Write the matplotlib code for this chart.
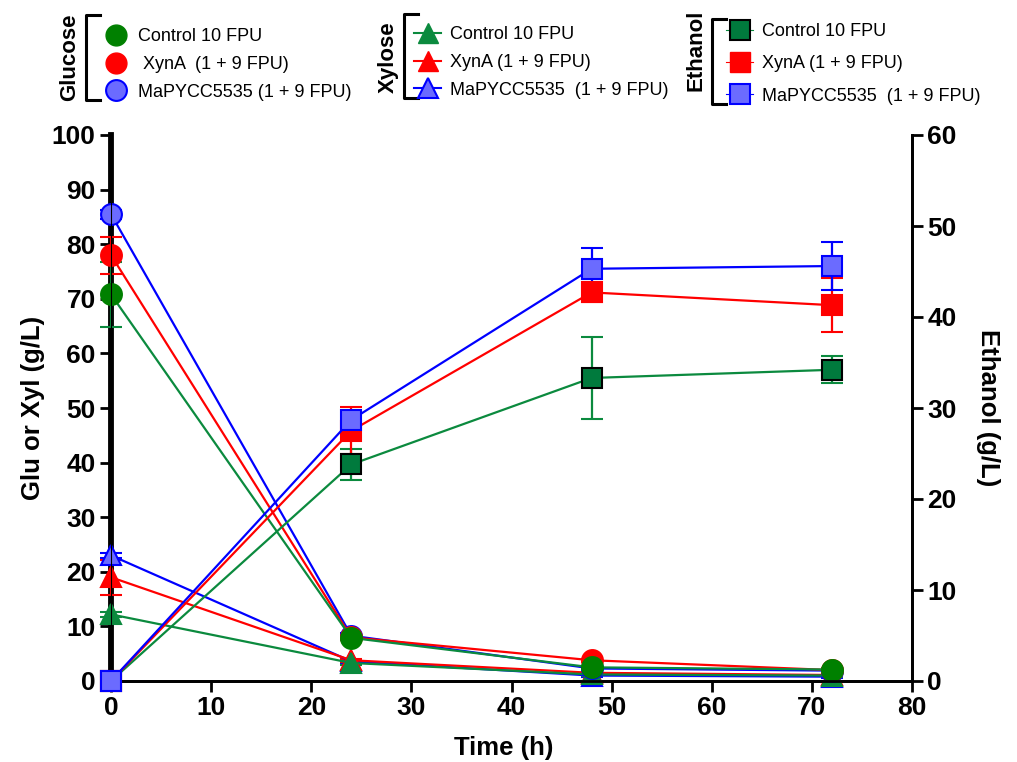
import numpy as np
import matplotlib.pyplot as plt
from matplotlib.lines import Line2D

plt.rcParams["font.family"] = ["Liberation Sans", "DejaVu Sans"]

########################################################################
# Données
time = [0, 24, 48, 72]

glc_control = [70.8, 7.9, 2.5, 2.1]
glc_control_err = [6.0, 0.4, 0.3, 0.2]
glc_xyna = [78.0, 8.0, 3.8, 2.0]
glc_xyna_err = [3.4, 0.4, 0.3, 0.2]
glc_mapycc = [85.5, 8.3, 2.3, 1.9]
glc_mapycc_err = [0.8, 0.4, 0.3, 0.2]

xyl_control = [12.2, 3.3, 1.2, 1.0]
xyl_control_err = [0.5, 0.3, 0.2, 0.2]
xyl_xyna = [19.0, 3.8, 1.5, 1.1]
xyl_xyna_err = [3.2, 0.3, 0.2, 0.2]
xyl_mapycc = [23.0, 3.6, 1.0, 0.8]
xyl_mapycc_err = [0.5, 0.3, 0.2, 0.2]

eth_control = [0, 23.8, 33.3, 34.2]
eth_control_err = [0, 1.7, 4.5, 1.5]
eth_xyna = [0, 27.5, 42.7, 41.3]
eth_xyna_err = [0, 2.6, 1.0, 3.0]
eth_mapycc = [0, 28.7, 45.3, 45.6]
eth_mapycc_err = [0, 1.0, 2.3, 2.6]

labels_glc = ["Control 10 FPU", " XynA  (1 + 9 FPU)", "MaPYCC5535 (1 + 9 FPU)"]
labels_xyl = ["Control 10 FPU", "XynA (1 + 9 FPU)", "MaPYCC5535  (1 + 9 FPU)"]
labels_eth = ["Control 10 FPU", "XynA (1 + 9 FPU)", "MaPYCC5535  (1 + 9 FPU)"]

########################################################################
green = "#0b8a3e"
green_dot = "#008000"
green_sq = "#007a3d"
red = "#ff0000"
blue = "#0000ff"
blue_fill = "#6b6bff"

W, H = 1017, 762
fig = plt.figure(figsize=(W / 100, H / 100), dpi=100)
ax = fig.add_axes([111 / W, 81 / H, 801 / W, 546 / H])
ax2 = ax.twinx()


def px(x, y):
    return x / W, 1 - y / H


def serie(a, y, err, marker, color, face, edge, ms, z):
    a.errorbar(time, y, yerr=err, color=color, lw=1.6, marker=marker, ms=ms,
               mfc=face, mec=edge, mew=1.5, capsize=8, capthick=1.6,
               elinewidth=1.6, clip_on=False, zorder=z)


# Glucose / Xylose (axe de gauche)
serie(ax, xyl_mapycc, xyl_mapycc_err, "^", blue, blue_fill, blue, 14, 3)
serie(ax, xyl_xyna, xyl_xyna_err, "^", red, red, red, 14, 3)
serie(ax, xyl_control, xyl_control_err, "^", green, green, green, 14, 3)
serie(ax, glc_mapycc, glc_mapycc_err, "o", blue, blue_fill, blue, 15, 4)
serie(ax, glc_xyna, glc_xyna_err, "o", red, red, red, 15, 4)
serie(ax, glc_control, glc_control_err, "o", green, green_dot, green_dot, 15, 4)

# Ethanol (axe de droite)
serie(ax2, eth_control, eth_control_err, "s", green, green_sq, "black", 14, 3)
serie(ax2, eth_xyna, eth_xyna_err, "s", red, red, red, 14, 3)
serie(ax2, eth_mapycc, eth_mapycc_err, "s", blue, blue_fill, blue, 14, 3)

ax.set_xlim(0, 80)
ax.set_ylim(0, 100)
ax2.set_ylim(0, 60)
ax.set_xticks(np.arange(0, 81, 10))
ax.set_yticks(np.arange(0, 101, 10))
ax2.set_yticks(np.arange(0, 61, 10))

for a in (ax, ax2):
    a.tick_params(length=8, width=2, labelsize=19, pad=3)
    for lab in a.get_xticklabels() + a.get_yticklabels():
        lab.set_fontweight("bold")
    a.spines["top"].set_visible(False)
    a.spines["bottom"].set_linewidth(2)
    a.spines["right"].set_linewidth(2)
ax.spines["left"].set_linewidth(4.2)
ax.spines["left"].set_zorder(2.5)

ax.set_xlabel("Time (h)", fontsize=18.5, fontweight="bold")
ax.set_ylabel("Glu or Xyl (g/L)", fontsize=18.5, fontweight="bold")
ax2.set_ylabel("Ethanol (g/L)", fontsize=18.5, fontweight="bold", rotation=270,
               va="center")
ax.xaxis.set_label_coords(0.49, -0.1)
ax.yaxis.set_label_coords(-0.098, 0.5)
ax.yaxis.label.set_va("center")
ax2.yaxis.set_label_coords(1.095, 0.5)

########################################################################
# Légendes groupées en haut


def legende(handles, labels, mx, ytop, title, tx, ty, bx, by0, by1, sp):
    fig.legend(handles, labels, loc="upper left",
               bbox_to_anchor=px(mx - 11, ytop), frameon=False,
               fontsize=13, handlelength=1.5, handletextpad=0.5,
               labelspacing=sp, borderpad=0, borderaxespad=0)
    fig.text(*px(tx, ty), title, rotation=90, ha="center", va="center",
             fontsize=16, fontweight="bold")
    xs = [(bx + 14) / W, bx / W, bx / W, (bx + 14) / W]
    ys = [1 - by0 / H, 1 - by0 / H, 1 - by1 / H, 1 - by1 / H]
    fig.add_artist(Line2D(xs, ys, color="black", lw=2.2,
                          transform=fig.transFigure))


h_glc = [Line2D([], [], ls="none", marker="o", ms=15, mfc=green_dot, mec=green_dot),
         Line2D([], [], ls="none", marker="o", ms=15, mfc=red, mec=red),
         Line2D([], [], ls="none", marker="o", ms=15, mfc=blue_fill, mec=blue, mew=1.5)]
h_xyl = [Line2D([], [], color=green, lw=1.5, marker="^", ms=15, mfc=green, mec=green),
         Line2D([], [], color=red, lw=1.5, marker="^", ms=15, mfc=red, mec=red),
         Line2D([], [], color=blue, lw=1.5, marker="^", ms=15, mfc=blue_fill, mec=blue, mew=1.5)]
h_eth = [Line2D([], [], color=green, lw=0.8, marker="s", ms=15, mfc=green_sq, mec="black", mew=1.5),
         Line2D([], [], color=red, lw=0.8, marker="s", ms=15, mfc=red, mec=red),
         Line2D([], [], color=blue, lw=0.8, marker="s", ms=15, mfc=blue_fill, mec=blue, mew=1.5)]

legende(h_glc, labels_glc, 113, 28, "Glucose", 70, 57, 86, 15, 100, 0.6)
legende(h_xyl, labels_xyl, 425, 26, "Xylose", 388, 57, 404, 14, 98, 0.6)
legende(h_eth, labels_eth, 737, 23, "Ethanol", 696, 50, 712, 19, 104, 0.85)

fig.savefig("out.png", dpi=100)
